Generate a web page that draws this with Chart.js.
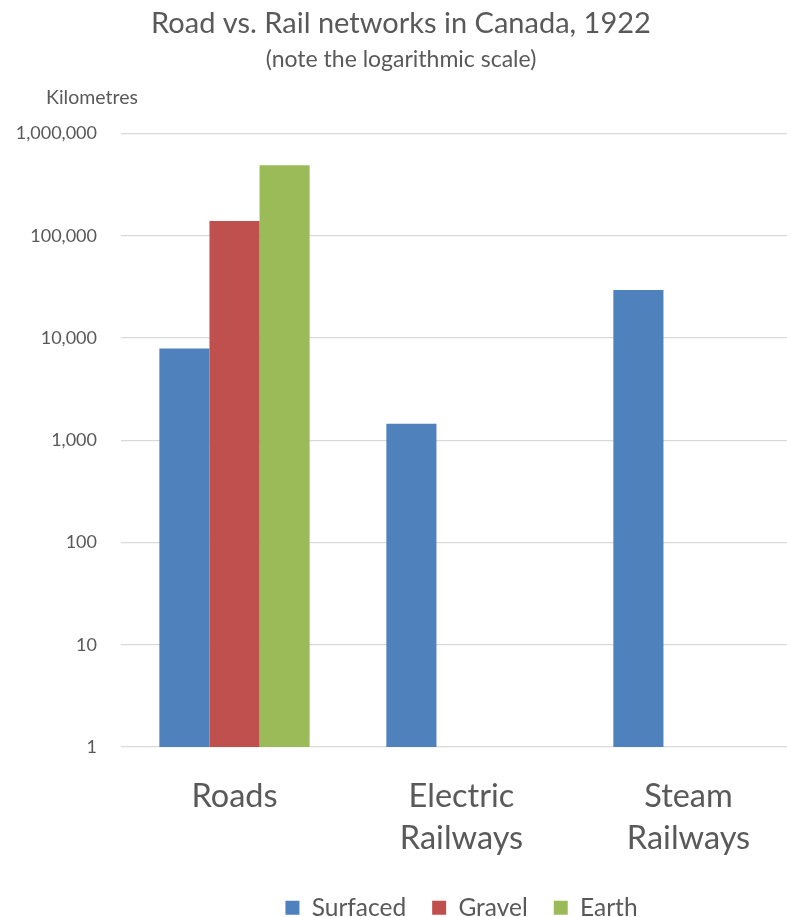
<!DOCTYPE html>
<html lang="en">
<head>
    <meta charset="UTF-8">
    <title>Road vs. Rail networks in Canada, 1922</title>
    <script src="https://cdn.jsdelivr.net/npm/chart.js@4.4.1/dist/chart.umd.min.js"></script>
    <style>
        html, body {margin: 0;padding: 0;background: #fff;overflow: hidden;}
        #box {width: 802px;height: 917px;}
    </style>
</head>
<body>
<div id="box">
    <canvas id="chart" width="802" height="917"></canvas>
</div>
<script>
    // data
    const categories = [['Roads'], ['Electric', 'Railways'], ['Steam', 'Railways']];
    const surfaced = [7900, 1450, 29500];
    const gravel = [140000, null, null];
    const earth = [490000, null, null];
    const yTicks = [1, 10, 100, 1000, 10000, 100000, 1000000];

    const grey = '#595959';
    const font = 'Lato';

    // "Kilometres" sits above the axis, horizontal, like the Excel original
    const unitLabel = {
        id: 'unitLabel',
        afterDraw(chart) {
            const ctx = chart.ctx;
            ctx.save();
            ctx.font = '19.5px ' + font;
            ctx.fillStyle = grey;
            ctx.textBaseline = 'alphabetic';
            ctx.textAlign = 'left';
            ctx.fillText('Kilometres', 46, 104);
            ctx.restore();
        }
    };

    new Chart(document.getElementById('chart'), {
        type: 'bar',
        data: {
            labels: categories,
            datasets: [
                {label: 'Surfaced', data: surfaced, backgroundColor: '#4F81BD'},
                {label: 'Gravel', data: gravel, backgroundColor: '#C0504D'},
                {label: 'Earth', data: earth, backgroundColor: '#9BBB59'}
            ]
        },
        options: {
            responsive: false,
            animation: false,
            barPercentage: 1,
            categoryPercentage: 0.662,
            layout: {padding: {top: 6, left: 0, right: 0, bottom: -13}},
            plugins: {
                title: {
                    display: true,
                    text: 'Road vs. Rail networks in Canada, 1922',
                    color: grey,
                    font: {family: font, size: 29, weight: 'normal'},
                    padding: {top: 0, bottom: 5}
                },
                subtitle: {
                    display: true,
                    text: '(note the logarithmic scale)',
                    color: grey,
                    font: {family: font, size: 23, weight: 'normal'},
                    padding: {top: 0, bottom: 60.2}
                },
                legend: {
                    position: 'bottom',
                    fullSize: false,
                    labels: {
                        color: grey,
                        boxWidth: 14,
                        boxHeight: 14,
                        padding: 26,
                        font: {family: font, size: 24.5}
                    }
                },
                tooltip: {enabled: false}
            },
            scales: {
                x: {
                    grid: {display: false},
                    border: {display: false},
                    afterFit: (scale) => { scale.height = 122.5; },
                    ticks: {
                        color: grey,
                        padding: 20,
                        font: {family: font, size: 32.5, lineHeight: 1.3}
                    }
                },
                y: {
                    type: 'logarithmic',
                    min: 1,
                    max: 1000000,
                    afterBuildTicks: (scale) => {
                        scale.ticks = yTicks.map(v => ({value: v}));
                    },
                    afterFit: (scale) => { scale.width = 121; },
                    grid: {color: '#d9d9d9', lineWidth: 1.3, drawTicks: false},
                    border: {display: false},
                    ticks: {
                        color: grey,
                        padding: 24,
                        font: {family: font, size: 18},
                        callback: (v) => v.toLocaleString('en-US')
                    }
                }
            }
        },
        plugins: [unitLabel]
    });
</script>
</body>
</html>
